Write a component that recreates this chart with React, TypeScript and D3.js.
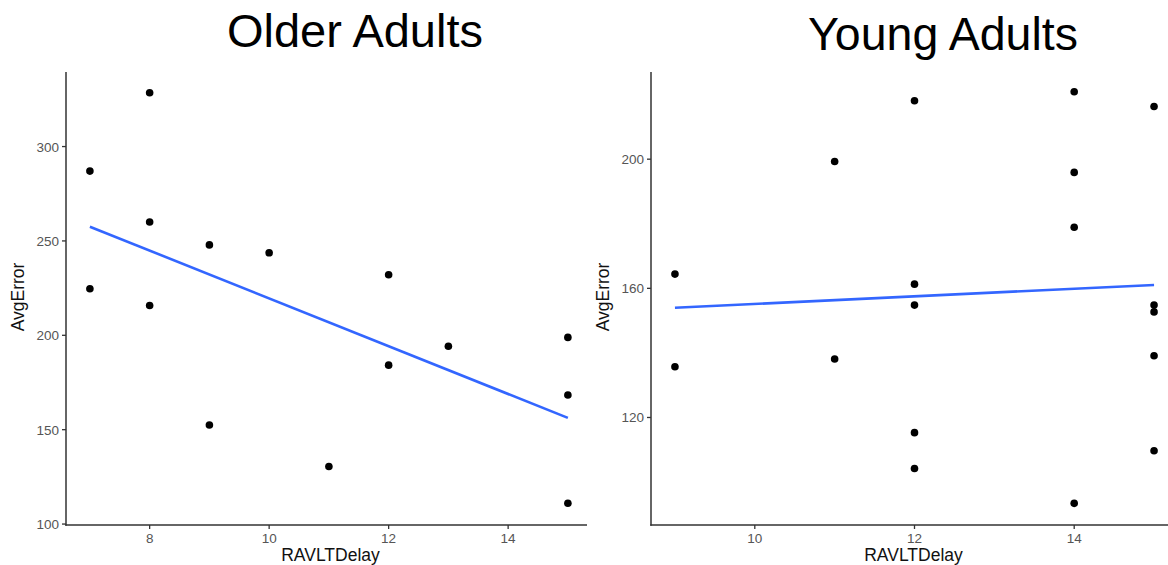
import React, { useEffect, useRef } from 'react';
import * as d3 from 'd3';

// Older adults: RAVLT delay score vs average error
const olderDelay = [7, 7, 8, 8, 8, 9, 9, 10, 11, 12, 12, 13, 15, 15, 15];
const olderError = [287, 224.7, 328.5, 260, 215.8, 247.9, 152.5, 243.7, 130.5, 232.1, 184.2, 194.2, 198.9, 168.4, 111];

// Young adults
const youngDelay = [9, 9, 11, 11, 12, 12, 12, 12, 12, 14, 14, 14, 14, 15, 15, 15, 15, 15];
const youngError = [164.4, 135.7, 199.3, 138.1, 218.1, 161.3, 154.8, 115.3, 104.2, 220.9, 195.9, 178.9, 93.4, 216.3, 154.8, 152.7, 139.1, 109.7];

const olderXTicks = [8, 10, 12, 14];
const olderYTicks = [100, 150, 200, 250, 300];
const youngXTicks = [10, 12, 14];
const youngYTicks = [120, 160, 200];

const FONT = '"Liberation Sans", Arial, sans-serif';

type Panel = {
  title: string;
  xs: number[];
  ys: number[];
  xTicks: number[];
  yTicks: number[];
  xDomain: [number, number];
  yDomain: [number, number];
  left: number;
  right: number;
  titleX: number;
  titleY: number;
  titleSize: number;
};

const panels: Panel[] = [
  {
    title: 'Older Adults', xs: olderDelay, ys: olderError, xTicks: olderXTicks, yTicks: olderYTicks,
    xDomain: [6.6, 15.32], yDomain: [99.5, 339.5], left: 66, right: 587,
    titleX: 355, titleY: 47, titleSize: 47,
  },
  {
    title: 'Young Adults', xs: youngDelay, ys: youngError, xTicks: youngXTicks, yTicks: youngYTicks,
    xDomain: [8.7, 15.3], yDomain: [86.7, 227], left: 651, right: 1178,
    titleX: 943, titleY: 49.5, titleSize: 46.5,
  },
];

// least squares fit, same as geom_smooth(method = "lm")
function fit(xs: number[], ys: number[]) {
  const mx = d3.mean(xs) as number;
  const my = d3.mean(ys) as number;
  let sxy = 0, sxx = 0;
  xs.forEach((x, i) => { sxy += (x - mx) * (ys[i] - my); sxx += (x - mx) ** 2; });
  const slope = sxy / sxx;
  return (x: number) => my + slope * (x - mx);
}

const App = () => {
  const ref = useRef<SVGSVGElement>(null);

  useEffect(() => {
    const svg = d3.select(ref.current);
    svg.selectAll('*').remove();
    const top = 72, bottom = 525;

    panels.forEach(p => {
      const x = d3.scaleLinear().domain(p.xDomain).range([p.left, p.right]);
      const y = d3.scaleLinear().domain(p.yDomain).range([bottom, top]);
      const g = svg.append('g');

      // title
      g.append('text')
        .attr('x', p.titleX).attr('y', p.titleY)
        .attr('text-anchor', 'middle')
        .attr('font-size', p.titleSize)
        .attr('fill', '#000')
        .text(p.title);

      // regression line
      const f = fit(p.xs, p.ys);
      const [xmin, xmax] = d3.extent(p.xs) as [number, number];
      g.append('path')
        .datum([xmin, xmax])
        .attr('fill', 'none')
        .attr('stroke', '#3366FF')
        .attr('stroke-width', 2.6)
        .attr('d', d3.line<number>().x(d => x(d)).y(d => y(f(d))));

      // points
      g.selectAll('circle.pt')
        .data(p.xs)
        .enter()
        .append('circle')
        .attr('cx', d => x(d))
        .attr('cy', (d, i) => y(p.ys[i]))
        .attr('r', 3.8)
        .attr('fill', '#000');

      // axis lines
      g.append('line')
        .attr('x1', p.left).attr('x2', p.left).attr('y1', top).attr('y2', bottom + 0.75)
        .attr('stroke', '#333').attr('stroke-width', 1.5);
      g.append('line')
        .attr('x1', p.left - 0.75).attr('x2', p.right).attr('y1', bottom).attr('y2', bottom)
        .attr('stroke', '#333').attr('stroke-width', 1.5);

      // y ticks
      p.yTicks.forEach(t => {
        g.append('line')
          .attr('x1', p.left - 4).attr('x2', p.left).attr('y1', y(t)).attr('y2', y(t))
          .attr('stroke', '#333').attr('stroke-width', 1.3);
        g.append('text')
          .attr('x', p.left - 7).attr('y', y(t) + 5)
          .attr('text-anchor', 'end')
          .attr('font-size', 13.5)
          .attr('fill', '#555')
          .text(t);
      });

      // x ticks
      p.xTicks.forEach(t => {
        g.append('line')
          .attr('x1', x(t)).attr('x2', x(t)).attr('y1', bottom).attr('y2', bottom + 4)
          .attr('stroke', '#333').attr('stroke-width', 1.3);
        g.append('text')
          .attr('x', x(t)).attr('y', bottom + 18)
          .attr('text-anchor', 'middle')
          .attr('font-size', 13.5)
          .attr('fill', '#555')
          .text(t);
      });

      // axis titles
      g.append('text')
        .attr('x', (p.left + Math.min(p.right, 1168)) / 2 + 4).attr('y', 561)
        .attr('text-anchor', 'middle')
        .attr('font-size', 17.5)
        .attr('fill', '#111')
        .text('RAVLTDelay');
      g.append('text')
        .attr('transform', `translate(${p.left - 42.5},297) rotate(-90)`)
        .attr('text-anchor', 'middle')
        .attr('font-size', 17.5)
        .attr('fill', '#111')
        .text('AvgError');
    });
  }, []);

  return (
    <svg
      ref={ref}
      width={1168}
      height={565}
      style={{ position: 'absolute', left: 0, top: 0, background: '#fff', fontFamily: FONT }}
    />
  );
};

export default App;
